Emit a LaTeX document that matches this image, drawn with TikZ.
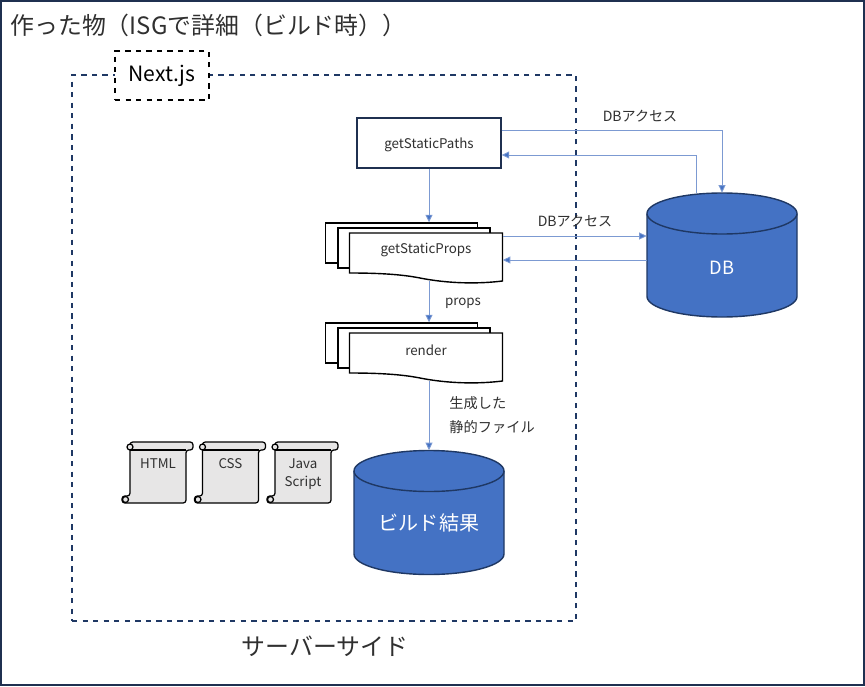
\documentclass[tikz,border=0pt]{standalone}
\usepackage{fontspec}
\setmainfont{Noto Sans CJK JP}
\usetikzlibrary{arrows.meta}
\definecolor{frameNavy}{HTML}{1F3050}
\definecolor{dbBlue}{HTML}{4472C4}
\definecolor{dbEdge}{HTML}{1F3864}
\definecolor{linkBlue}{HTML}{7C9AD2}
\definecolor{scrollGray}{HTML}{E7E6E6}
\definecolor{labelGray}{HTML}{303030}

% Stack of three sheets, the front one with a wavy lower edge
\newcommand{\docStack}[3]{
    \node[sheetStyle] (#1Back) at (401.5, 243+#2) {};
    \node[sheetStyle] at (414, 248+#2) {};
    \draw[frontSheetStyle] (349.5, 233+#2) -- (502.5, 233+#2) -- (502.5, 281+#2)
        .. controls (470, 285+#2) and (440, 282+#2) .. (420, 278+#2)
        .. controls (400, 274+#2) and (375, 273+#2) .. (349.5, 273+#2) -- cycle;
    \node[minimum width=3.06cm, minimum height=0.96cm, inner sep=0pt] (#1) at (426, 257+#2) {};
    \node[smallText] (#1Text) at (426, 250+#2) {#3};
}
% Rolled sheet, drawn at the HTML position and shifted to the right
\newcommand{\scrollDoc}[3]{
    \begin{scope}[shift={(#2, 0)}]
        \draw[scrollStyle, rounded corners=1.6pt] (130, 450) -- (130, 442) -- (193, 442) -- (193, 450) -- (186, 450)
            -- (186, 503) -- (122, 503) -- (122, 496) -- (130, 496) -- cycle;
        \draw[scrollStyle] (130, 450) -- (186, 450);
        \draw[scrollStyle] (130, 447) circle [radius=3];
        \draw[scrollStyle] (125.5, 499.5) circle [radius=3];
        \node[smallText, align=center, anchor=north] (#1) at (158, 458) {#3};
    \end{scope}
}
% Database drum, placed by the middle of its top edge
\newcommand{\dbDrum}[3]{
    \begin{scope}[shift={(#2, #3)}]
        \draw[dbDrumStyle] (-75, 20.5) -- (-75, 103.5) .. controls (-75, 114.8) and (-41.4, 124) .. (0, 124)
            .. controls (41.4, 124) and (75, 114.8) .. (75, 103.5) -- (75, 20.5)
            .. controls (75, 9.2) and (41.4, 0) .. (0, 0) .. controls (-41.4, 0) and (-75, 9.2) .. (-75, 20.5) -- cycle;
        \draw[dbDrumStyle] (-75, 20.5) .. controls (-75, 31.8) and (-41.4, 41) .. (0, 41) .. controls (41.4, 41) and (75, 31.8) .. (75, 20.5);
        \node[minimum width=3cm, minimum height=2.48cm, inner sep=0pt] (#1) at (0, 62) {};
    \end{scope}
}

\begin{document}
\begin{tikzpicture}[x=0.02cm, y=-0.02cm,
    smallText/.style={font=\fontsize{7.6}{10.2}\selectfont, text=labelGray, inner sep=0pt},
    sheetStyle/.style={draw=black, fill=white, line width=0.8pt, minimum width=3.04cm, minimum height=0.8cm, inner sep=0pt},
    frontSheetStyle/.style={draw=black, fill=white, line width=0.8pt},
    scrollStyle/.style={draw=black, fill=scrollGray, line width=0.7pt},
    dbDrumStyle/.style={draw=dbEdge, fill=dbBlue, line width=0.8pt},
    dbText/.style={text=white, inner sep=0pt},
    linkArrowStyle/.style={draw=linkBlue, line width=0.5pt, -{Triangle[length=0.15cm, width=0.14cm, fill=dbBlue]}}]

    \useasboundingbox (0, 0) rectangle (865, 686);
    \node[draw=frameNavy, line width=0.9pt, minimum width=17.26cm, minimum height=13.68cm, inner sep=0pt] (outerFrame) at (432.5, 343) {};
    \node[anchor=west, inner sep=0pt, font=\fontsize{13.6}{16}\selectfont, text=labelGray] (titleText) at (10, 25) {作った物（ISGで詳細（ビルド時））};

    % Server side area
    \node[draw=dbEdge, dashed, line width=0.7pt, minimum width=10.08cm, minimum height=10.92cm, inner sep=0pt] (serverBox) at (324, 348) {};
    \node[draw=black, dashed, fill=white, line width=0.8pt, minimum width=1.88cm, minimum height=0.98cm, inner sep=0pt,
        font=\fontsize{12}{14}\selectfont] (nextBox) at (162, 75.5) {Next.js};
    \node[font=\fontsize{13.6}{16}\selectfont, inner sep=0pt, text=labelGray] (serverText) at (325, 646) {サーバーサイド};

    \node[draw=frameNavy, fill=white, line width=0.8pt, minimum width=2.88cm, minimum height=1cm, inner sep=0pt] (pathsBox) at (429, 143) {};
    \node[smallText] (pathsText) at (429, 145) {getStaticPaths};
    \docStack{propsDoc}{0}{getStaticProps}
    \docStack{renderDoc}{100}{render}

    \dbDrum{db}{722}{193}
    \node[dbText, font=\fontsize{10.4}{12}\selectfont] (dbLabel) at (722, 268) {DB};
    \dbDrum{buildDb}{429}{450.5}
    \node[dbText, font=\fontsize{11.4}{14}\selectfont] (buildLabel) at (429, 523) {ビルド結果};

    \scrollDoc{htmlDoc}{0}{HTML}
    \scrollDoc{cssDoc}{72.5}{CSS}
    \scrollDoc{jsDoc}{145}{Java\\Script}

    \draw[linkArrowStyle] (pathsBox.south) -- (pathsBox.south |- propsDocBack.north);
    \draw[linkArrowStyle] (pathsBox.south |- propsDoc.south) -- (pathsBox.south |- renderDocBack.north);
    \draw[linkArrowStyle] (pathsBox.south |- renderDoc.south) -- (buildDb.north -| pathsBox.south);
    \draw[linkArrowStyle] (pathsBox.east |- 0, 130) -| (db.north);
    \draw[linkArrowStyle] (696, 0 |- db.north) |- (pathsBox.east |- 0, 155);
    \draw[linkArrowStyle] (propsDoc.east |- 0, 236) -- (db.west |- 0, 236);
    \draw[linkArrowStyle] (db.west |- 0, 260) -- (propsDoc.east |- 0, 260);

    \node[smallText, font=\fontsize{8}{10}\selectfont] (pathsAccess) at (640, 116) {DBアクセス};
    \node[smallText, font=\fontsize{8}{10}\selectfont] (propsAccess) at (575, 221) {DBアクセス};
    \node[smallText] (propsText) at (463, 303) {props};
    \node[smallText, align=left, anchor=north west, font=\fontsize{8.1}{13.6}\selectfont] (fileText) at (449, 396) {生成した\\静的ファイル};
\end{tikzpicture}
\end{document}
